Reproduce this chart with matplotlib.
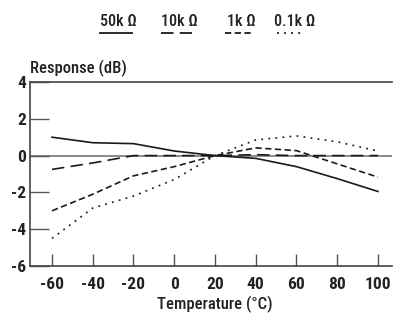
import matplotlib
matplotlib.use("Agg")
import matplotlib.pyplot as plt
from matplotlib.lines import Line2D
from matplotlib import font_manager

names = {f.name for f in font_manager.fontManager.ttflist}
fam = 'DejaVu Sans'
for cand in ['Liberation Sans Narrow', 'Roboto Condensed', 'Open Sans Condensed', 'Roboto']:
    if cand in names:
        fam = cand
        break
plt.rcParams['font.family'] = [fam, 'DejaVu Sans']
plt.rcParams['lines.scale_dashes'] = False

temps = [-60, -40, -20, 0, 20, 40, 60, 80, 100]
r50k = [1.0, 0.7, 0.65, 0.25, 0.0, -0.15, -0.6, -1.25, -1.95]
r10k = [-0.75, -0.4, 0.0, 0.0, 0.0, 0.05, 0.0, 0.0, 0.0]
r1k = [-3.0, -2.1, -1.1, -0.6, 0.0, 0.42, 0.27, -0.45, -1.17]
r01k = [-4.5, -2.85, -2.2, -1.3, 0.0, 0.85, 1.07, 0.75, 0.25]
series_labels = ['50k Ω', '10k Ω', '1k Ω', '0.1k Ω']
xticks = [-60, -40, -20, 0, 20, 40, 60, 80, 100]
yticks = [-6, -4, -2, 0, 2, 4]

W, H = 393, 314
fig = plt.figure(figsize=(W / 100, H / 100), dpi=100)
ax = fig.add_axes([30 / W, 1 - 266 / H, (392 - 30) / W, (266 - 82) / H])

lc = '#1a1a1a'
styles = [
    dict(linestyle='-'),
    dict(linestyle=(0, (9, 4.5))),
    dict(linestyle=(0, (4.5, 2.5))),
    dict(linestyle=(0, (1.3, 3.8))),
]
ax.axhline(0, color='#777777', lw=1.2, zorder=1)
for ys, st in zip([r50k, r10k, r1k, r01k], styles):
    ax.plot(temps, ys, color=lc, lw=1.2, zorder=3, **st)

ax.set_xlim(-70.8, 106.9)
ax.set_ylim(-6, 4)
ax.set_xticks(xticks)
ax.set_yticks(yticks)
ax.set_xticklabels([str(t) for t in xticks])
ax.set_yticklabels([str(t) for t in yticks])
ax.tick_params(axis='y', direction='in', length=14, width=1, color='#555555',
               labelsize=12.5, pad=3)
ax.tick_params(axis='x', direction='in', length=9, width=1, color='#555555',
               labelsize=12.5, pad=8)
for lab in ax.get_xticklabels() + ax.get_yticklabels():
    lab.set_fontweight('bold')
    lab.set_color('#222222')
ax.spines['right'].set_visible(False)
for s in ['left', 'bottom', 'top']:
    ax.spines[s].set_color('#444444')
    ax.spines[s].set_linewidth(1.2)

fig.text(30 / W, 1 - 68 / H, 'Response (dB)', fontsize=12, ha='left', va='center',
         color='#222222', fontweight='medium')
fig.text(215 / W, 1 - 304 / H, 'Temperature (°C)', fontsize=12, ha='center',
         va='center', color='#222222', fontweight='medium')

# legend
leg_text_x = [100, 161, 227, 274]
leg_line = [(100, 132), (161, 192), (225, 252), (277, 303)]
for lab, tx, (x0, x1), st in zip(series_labels, leg_text_x, leg_line, styles):
    fig.text(tx / W, 1 - 22 / H, lab, fontsize=11.5, ha='left', va='center',
             color='#222222', fontweight='medium')
    fig.add_artist(Line2D([x0 / W, x1 / W], [1 - 33 / H, 1 - 33 / H],
                          transform=fig.transFigure, color=lc, lw=1.3, **st))

fig.savefig('out.png', dpi=100)
